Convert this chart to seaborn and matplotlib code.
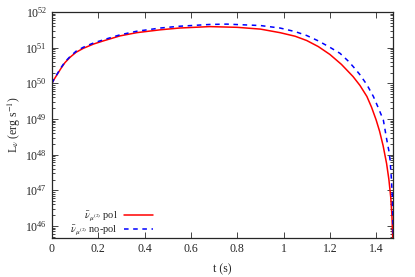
import numpy as np
import pandas as pd
import matplotlib
matplotlib.use("Agg")
import matplotlib.pyplot as plt
import seaborn as sns

# data (log10 of luminosity in erg/s)
t_pol = [0, 0.01, 0.039, 0.056, 0.078, 0.104, 0.135, 0.179, 0.222, 0.294, 0.366,
         0.467, 0.55, 0.68, 0.8, 0.9, 0.985, 1.05, 1.1, 1.15, 1.2, 1.25, 1.3, 1.33,
         1.36, 1.38, 1.40, 1.415, 1.43, 1.445, 1.455, 1.463, 1.468, 1.472]
logL_pol = [50.0, 50.12, 50.42, 50.58, 50.73, 50.87, 50.98, 51.10, 51.19, 51.33, 51.42,
            51.50, 51.55, 51.59, 51.57, 51.52, 51.42, 51.32, 51.20, 51.03, 50.81, 50.53,
            50.19, 49.94, 49.63, 49.33, 48.97, 48.65, 48.25, 47.75, 47.3, 46.8, 46.3, 45.6]
t_nopol = [0, 0.01, 0.039, 0.056, 0.078, 0.104, 0.135, 0.179, 0.222, 0.294, 0.366,
           0.467, 0.55, 0.68, 0.755, 0.9, 0.985, 1.05, 1.1, 1.15, 1.2, 1.244, 1.28,
           1.31, 1.33, 1.36, 1.388, 1.41, 1.431, 1.446, 1.455, 1.46, 1.466, 1.47, 1.474]
logL_nopol = [50.0, 50.13, 50.44, 50.60, 50.75, 50.90, 51.01, 51.13, 51.22, 51.36, 51.46,
              51.55, 51.60, 51.65, 51.66, 51.62, 51.55, 51.45, 51.34, 51.19, 51.01, 50.84,
              50.62, 50.40, 50.24, 49.96, 49.63, 49.30, 48.97, 48.41, 48.10, 47.85, 47.3,
              46.8, 45.6]
labels = [r"$\bar{\nu}_{\mu^{(2)}}$ pol", r"$\bar{\nu}_{\mu^{(2)}}$ no-pol"]

df = pd.concat([
    pd.DataFrame({"t": t_pol, "L": np.power(10.0, logL_pol), "series": labels[0]}),
    pd.DataFrame({"t": t_nopol, "L": np.power(10.0, logL_nopol), "series": labels[1]}),
])

sns.set_style("ticks")
plt.rcParams["font.family"] = ["Liberation Serif", "DejaVu Serif"]
plt.rcParams["mathtext.fontset"] = "stix"

fig = plt.figure(figsize=(4.15, 2.77), dpi=100)
ax = fig.add_axes([0.1253, 0.1408, 0.8224, 0.8159])

sns.lineplot(data=df, x="t", y="L", hue="series", style="series", sort=False,
             palette={labels[0]: "#ff0000", labels[1]: "#0000ff"},
             dashes={labels[0]: "", labels[1]: (3, 3)}, linewidth=1.1, ax=ax)

ax.set_yscale("log")
ax.set_xlim(0, 1.474)
ax.set_ylim(10**45.66, 1e52)
ax.set_xticks([0, 0.2, 0.4, 0.6, 0.8, 1.0, 1.2, 1.4])
ax.set_xticklabels(["0", "0.2", "0.4", "0.6", "0.8", "1", "1.2", "1.4"])
ax.set_yticks([1e46, 1e47, 1e48, 1e49, 1e50, 1e51, 1e52])
ax.tick_params(which="both", direction="in", top=True, right=True, labelsize=8.5, width=0.6)
ax.tick_params(which="major", length=4)
ax.tick_params(which="minor", length=2)
ax.tick_params(axis="x", which="minor", top=False, bottom=False)
for s in ax.spines.values():
    s.set_linewidth(0.9)
ax.set_xlabel("t (s)", fontsize=8.5, labelpad=6)
ax.set_ylabel(r"L$_\nu$ (erg s$^{-1}$)", fontsize=8.5, labelpad=2)

leg = ax.legend(loc="lower right", bbox_to_anchor=(0.30, 0.0), frameon=False,
                markerfirst=False, fontsize=7.5, handlelength=2.8, borderaxespad=0.0,
                labelspacing=0.0, handletextpad=0.6, borderpad=0.1)
for h in leg.legend_handles:
    h.set_linewidth(1.1)

fig.savefig("out.png", dpi=100)
